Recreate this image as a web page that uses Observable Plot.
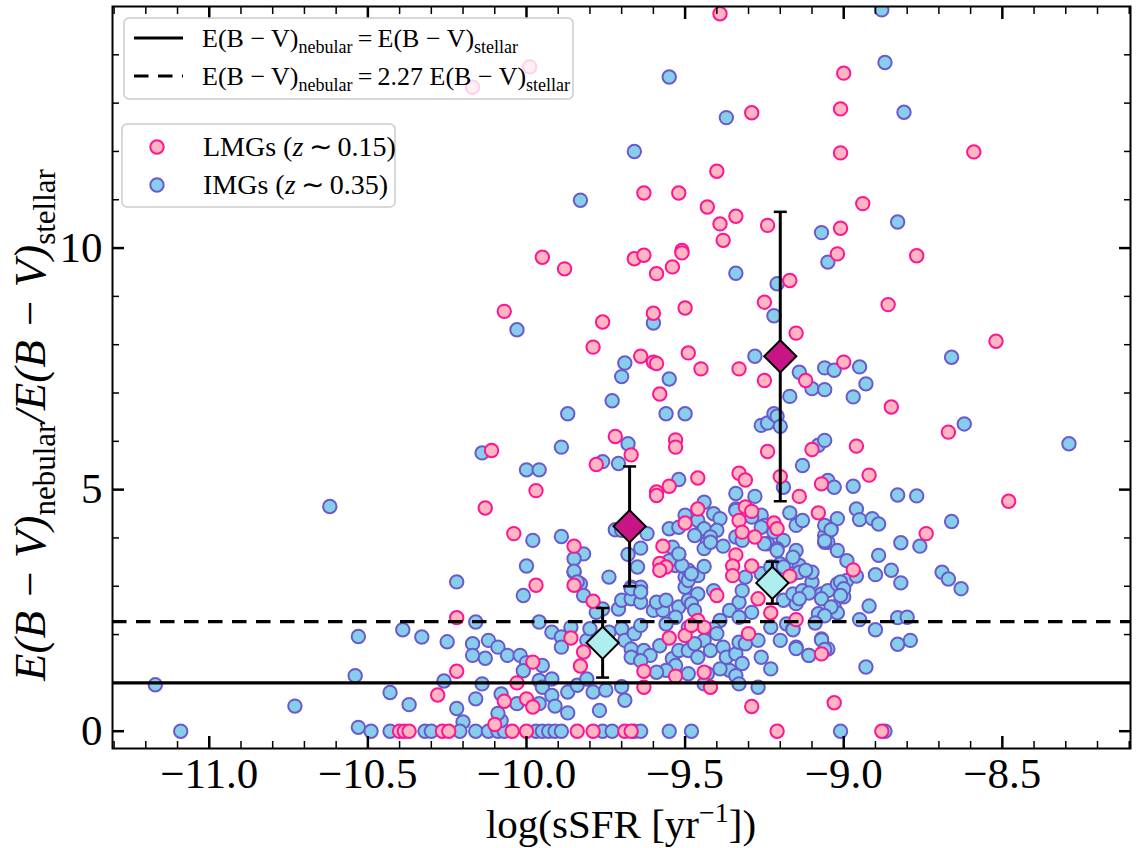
<!DOCTYPE html>
<html><head><meta charset="utf-8">
<script src="https://cdn.jsdelivr.net/npm/d3@7"></script>
<script src="https://cdn.jsdelivr.net/npm/@observablehq/plot@0.6"></script>
<style>
html,body{margin:0;padding:0;background:#fff;}
#chart{width:1136px;height:848px;}
</style></head><body><div id="chart"></div>
<script>
// ---------------- data ----------------
// IMGs (z~0.35): [log sSFR, E(B-V)neb/E(B-V)star]
const imgPoints = [
[-11.17,0.96],[-11.09,0.00],[-10.73,0.52],[-10.62,4.65],[-10.53,1.96],[-10.54,1.15],[-10.53,0.08],[-10.49,0.00],[-10.43,0.00],
[-10.39,2.10],[-10.33,1.95],[-10.25,1.85],[-10.43,0.80],[-10.37,0.55],[-10.26,1.04],[-10.22,3.09],[-10.22,0.47],[-10.20,0.19],
[-10.32,0.00],[-10.30,0.00],[-10.21,0.00],[-10.16,0.00],[-10.12,0.00],[-10.09,0.00],[-10.07,0.00],[-9.97,0.00],[-9.95,0.00],
[-9.93,0.00],[-9.91,0.00],[-9.89,0.00],[-9.76,0.00],[-9.73,0.00],[-9.66,0.00],[-9.64,0.00],[-9.55,0.00],[-9.48,0.00],[-9.01,0.00],[-8.87,0.00],
[-10.08,0.22],[-10.09,0.37],
[-10.17,1.81],[-10.12,1.88],[-10.09,1.74],[-10.06,1.57],[-10.13,1.51],[-10.17,1.57],[-10.08,0.77],[-10.14,0.98],[-10.16,0.67],[-10.03,0.57],[-10.16,2.26],
[-10.02,1.57],[-10.00,1.42],[-10.01,1.25],[-9.95,1.36],[-9.96,1.05],[-9.95,0.91],[-9.92,1.08],[-9.92,0.74],[-9.91,0.52],[-9.96,0.57],[-9.87,0.38],
[-9.87,0.81],[-9.84,0.95],[-9.81,1.08],[-9.79,0.81],[-9.75,0.85],[-9.70,0.92],[-9.69,0.64],[-9.77,0.43],
[-9.96,2.26],[-9.92,2.05],[-9.89,1.95],[-9.89,1.74],[-9.86,2.15],[-9.81,1.88],[-9.80,2.12],[-9.74,2.05],[-9.70,2.12],[-9.69,1.88],[-9.66,2.02],
[-9.64,2.19],[-9.67,1.70],[-9.63,1.67],[-9.61,1.57],[-9.58,1.77],[-9.54,1.50],[-9.52,1.67],[-9.49,1.67],[-9.53,1.36],[-9.56,1.26],[-9.59,1.22],
[-9.67,1.53],[-9.64,1.46],[-9.71,2.53],[-9.70,2.71],[-9.76,2.53],[-9.78,2.46],[-9.67,2.74],[-9.64,2.67],[-9.60,2.50],[-9.57,2.50],[-9.59,2.67],
[-9.56,2.71],[-9.52,2.57],[-9.49,2.71],[-9.53,2.36],[-9.56,2.22],[-9.49,2.15],[-9.50,3.19],[-9.49,3.33],[-9.53,3.43],[-9.82,3.67],[-9.85,3.29],
[-9.83,3.05],[-9.82,2.81],[-9.74,3.19],[-9.67,2.98],[-9.64,2.98],[-9.65,3.40],[-10.01,2.81],
[-9.87,6.57],[-9.56,6.57],[-9.50,6.57],[-9.73,6.84],[-10.14,5.76],[-9.89,5.88],[-9.68,5.95],[-9.76,5.58],[-9.71,5.54],[-10.00,5.41],[-9.96,5.41],
[-9.52,5.21],[-9.19,5.05],[-9.34,4.92],[-9.28,4.86],[-9.44,4.74],[-9.34,4.60],[-9.41,4.50],[-9.39,4.40],[-9.50,4.47],[-9.17,4.52],[-9.26,4.47],
[-9.25,4.26],[-9.15,4.26],[-9.55,4.19],[-9.52,4.22],[-9.46,4.36],[-9.44,4.19],[-9.47,4.05],[-9.43,3.91],[-9.44,3.78],[-9.40,4.16],[-9.42,4.02],
[-9.38,3.83],[-9.22,4.12],[-9.19,3.95],[-9.24,3.88],[-9.21,3.78],[-9.72,4.17],[-9.70,4.16],[-9.62,4.09],[-9.89,4.03],[-9.98,3.95],[-9.85,3.57],
[-9.85,3.31],[-9.84,3.09],[-10.00,3.42],[-9.68,3.66],[-9.64,3.79],[-9.67,2.95],[-9.64,2.88],[-9.54,3.81],[-9.52,3.66],[-9.55,3.53],[-9.51,3.43],
[-9.46,3.22],[-9.50,2.98],[-9.42,3.91],[-9.34,4.57],[-9.34,4.02],[-9.29,4.43],[-9.26,4.22],[-9.06,4.05],[-9.04,4.19],[-9.05,3.91],
[-9.32,3.95],[-9.25,3.88],[-9.21,3.74],[-9.15,3.74],[-9.06,3.91],[-9.02,3.74],[-9.44,3.41],[-9.52,3.67],[-9.49,3.12],[-9.48,3.26],[-9.46,2.84],
[-9.48,2.64],[-9.47,2.50],[-9.41,2.91],[-9.33,2.67],[-9.32,2.91],[-9.29,2.46],[-9.36,2.50],[-9.33,2.36],[-9.39,2.29],[-9.41,2.12],[-9.40,2.02],
[-9.44,1.88],[-9.47,1.81],[-9.46,1.53],[-9.42,1.67],[-9.38,1.74],[-9.37,1.53],[-9.34,1.60],[-9.33,1.84],[-9.31,1.81],[-9.27,1.88],[-9.32,1.40],
[-9.36,1.26],[-9.39,1.29],[-9.34,1.15],[-9.43,1.19],[-9.49,1.19],[-9.44,0.98],[-9.33,0.98],[-9.27,0.91],[-9.26,1.53],[-9.23,1.29],[-9.23,2.15],
[-9.20,1.88],[-9.18,2.22],[-9.16,2.12],[-9.15,1.74],[-9.11,1.57],[-9.07,1.91],[-9.05,1.70],[-9.15,2.64],[-9.19,2.71],[-9.16,2.84],[-9.13,2.91],
[-9.10,3.09],[-9.07,2.84],[-9.05,2.91],[-9.02,3.05],[-9.03,2.57],[-9.00,2.78],[-8.99,3.12],[-9.10,3.29],[-9.16,3.26],[-9.20,3.46],[-9.14,3.43],
[-9.08,2.43],[-9.31,3.19],[-9.26,3.26],[-9.23,3.40],[-9.19,3.40],[-9.16,3.60],
[-8.62,6.36],[-8.29,5.95],[-9.08,5.92],[-9.06,6.02],[-9.13,5.50],[-9.05,5.19],[-9.03,5.05],[-8.97,5.07],[-8.83,4.89],[-8.77,4.87],[-8.96,4.60],
[-8.95,4.38],[-8.91,4.40],[-8.89,4.29],[-9.02,4.40],[-9.13,4.36],[-9.06,4.26],[-9.04,4.17],[-8.66,4.34],[-9.06,3.94],[-8.82,3.90],[-8.76,3.83],
[-8.99,3.53],[-8.89,3.64],[-8.96,3.21],[-8.90,3.24],[-8.85,3.33],[-8.82,3.07],[-8.69,3.29],[-8.67,3.15],[-8.63,2.95],[-9.14,3.29],[-9.12,3.33],
[-9.01,3.09],[-9.00,2.95],[-9.01,2.81],[-9.11,2.86],[-9.07,2.74],[-9.14,2.74],[-8.92,2.59],[-9.02,2.45],[-9.04,2.57],[-9.06,2.39],[-8.95,2.31],
[-8.83,2.35],[-8.80,2.36],[-9.09,2.24],[-8.90,2.10],[-9.16,2.10],[-9.07,1.89],[-8.83,1.80],[-8.79,1.88],[-9.15,1.71],[-9.06,1.69],[-9.11,1.57],[-8.93,1.33],
[-9.26,6.33],[-9.24,6.38],[-9.22,6.57],[-9.21,6.52],[-9.20,6.31],
[-8.88,14.93],[-8.87,13.84],[-8.81,12.81],[-9.07,10.32],[-8.83,10.54],[-9.05,9.71],[-8.66,7.74],[-9.06,7.52],[-9.03,7.47],[-8.95,7.54],
[-8.93,7.19],[-9.14,7.43],[-9.10,7.09],[-9.06,7.07],[-8.97,6.92],
[-9.55,13.54],[-9.37,12.70],[-9.66,12.00],[-9.83,10.99],[-9.34,9.48],[-9.21,9.26],[-9.22,8.60],[-10.03,8.31],[-9.60,8.45],[-9.28,7.76],
[-9.69,7.62],[-9.70,7.34],[-9.55,7.29],[-9.17,6.93]
];
// LMGs (z~0.15)
const lmgPoints = [
[-10.40,0.00],[-10.385,0.00],[-10.37,0.00],[-10.265,0.00],[-10.245,0.00],[-10.045,0.00],[-10.00,0.00],[-9.84,0.00],[-9.79,0.00],
[-9.69,0.00],[-9.67,0.00],[-9.21,0.00],[-8.88,0.00],
[-10.10,0.14],[-10.28,0.75],[-10.22,1.24],[-10.22,2.35],[-10.07,0.62],[-10.00,0.67],[-9.98,0.50],[-10.03,1.00],[-9.98,1.43],[-9.63,0.91],
[-9.42,0.91],[-9.29,0.51],[-9.03,0.59],[-9.86,1.93],[-9.82,1.64],[-9.83,1.35],[-9.63,1.24],[-9.53,1.14],[-9.44,1.22],[-9.50,1.98],[-9.55,1.93],
[-9.30,2.02],[-9.46,2.29],[-9.44,2.15],[-9.48,2.19],[-9.07,1.60],[-9.15,2.31],[-9.23,2.45],[-9.27,2.74],[-9.40,2.81],[-9.79,2.69],[-9.97,3.02],[-9.85,3.02],
[-9.17,3.21],[-9.34,3.65],[-9.35,3.42],[-9.35,3.22],[-9.29,3.42],[-9.57,3.83],[-9.58,3.47],[-9.56,3.40],[-9.58,3.33],[-9.85,3.83],[-10.04,4.09],
[-8.97,3.34],[-8.74,4.09],[-9.50,4.31],[-9.33,4.36],[-9.32,4.12],[-9.28,4.02],[-9.22,4.31],[-9.21,4.19],[-9.46,4.60],[-9.31,4.64],[-9.29,4.55],
[-9.08,4.52],[-9.14,4.86],[-8.48,4.76],[-9.46,5.24],[-9.33,5.34],[-9.31,5.20],[-9.20,5.27],[-9.55,5.07],[-9.59,4.95],[-9.59,4.88],[-9.07,5.12],
[-8.92,5.30],[-9.97,4.98],[-10.13,4.62],[-9.24,5.79],[-9.10,5.83],[-8.96,5.90],[-10.11,5.81],[-9.72,6.10],[-9.67,5.72],[-9.78,5.52],[-9.53,6.03],
[-9.53,5.88],[-8.85,6.71],[-8.67,6.19],
[-9.39,14.85],[-9.29,12.80],[-9.40,11.59],[-9.63,11.14],[-9.52,11.14],[-9.43,10.85],[-9.34,10.66],[-9.39,10.50],[-9.24,10.47],[-9.38,10.16],
[-9.95,9.81],[-9.88,9.57],[-9.66,9.78],[-9.63,9.85],[-9.51,9.95],[-9.51,9.90],[-9.59,9.47],[-9.54,9.61],[-9.17,9.33],[-9.25,8.88],[-9.15,8.24],
[-10.07,8.69],[-9.76,8.47],[-9.60,8.65],[-9.50,8.76],[-9.79,7.95],[-9.64,7.76],[-9.60,7.64],[-9.59,7.61],[-9.49,7.83],[-9.45,7.50],[-9.33,7.50],
[-9.25,7.26],[-9.58,6.98],[-9.99,13.75],[-10.17,13.33],
[-9.00,13.62],[-9.01,12.88],[-9.01,11.97],[-8.59,11.99],[-8.94,10.92],[-9.01,10.41],[-9.02,9.88],[-8.77,9.84],[-8.86,8.83],[-8.52,8.07],
[-9.00,7.64],[-9.12,7.26]
];
// binned medians with error bars
const lmgBins = [
  {x:-9.675, y:4.24, lo:3.00, hi:5.48},
  {x:-9.20,  y:7.76, lo:4.76, hi:10.75}
];
const imgBins = [
  {x:-9.76,  y:1.83, lo:1.11, hi:2.55},
  {x:-9.225, y:3.07, lo:2.64, hi:3.51}
];
const ratioOneToOne = 1;
const ratioCalzetti = 2.27;
const xMajorTicks = [-11.0,-10.5,-10.0,-9.5,-9.0,-8.5];
const yMajorTicks = [0,5,10];
const xDomain = [-11.305,-8.096];
const yDomain = [-0.358,15.0];

// ---------------- chart ----------------
const serif = "'Liberation Serif','Times New Roman',serif";
const xMinorTicks = d3.range(-113,-80).map(v=>v/10).filter(v=>!xMajorTicks.some(m=>Math.abs(m-v)<1e-6));
const yMinorTicks = d3.range(1,15).filter(v=>!yMajorTicks.includes(v));
const fmtX = d => (d<0?"\u2212":"") + Math.abs(d).toFixed(1);
const blank = () => "";
const capSymbol = {draw(ctx,size){const w=Math.sqrt(size/Math.PI);ctx.moveTo(-w,0);ctx.lineTo(w,0);}};

const blueStyle = {fill:"#87CEEB", stroke:"#6A5ACD"};
const pinkStyle = {fill:"#FFB6C1", stroke:"#FF1493"};
const R = 6.7;

const chart = Plot.plot({
  width:1136, height:848,
  marginLeft:112, marginRight:6, marginTop:6, marginBottom:100,
  x:{domain:xDomain}, y:{domain:yDomain},
  style:{fontFamily:serif, background:"white", color:"black", overflow:"visible"},
  marks:[
    Plot.dot(imgPoints,{x:d=>d[0], y:d=>d[1], r:R, strokeWidth:2, ...blueStyle, clip:true}),
    Plot.dot(lmgPoints,{x:d=>d[0], y:d=>d[1], r:R, strokeWidth:2, ...pinkStyle, clip:true}),
    Plot.ruleY([ratioOneToOne],{stroke:"black", strokeWidth:3.2}),
    Plot.ruleY([ratioCalzetti],{stroke:"black", strokeWidth:3.2, strokeDasharray:"14.5,9.5"}),
    ...[lmgBins,imgBins].flatMap(b=>[
      Plot.ruleX(b,{x:"x", y1:"lo", y2:"hi", stroke:"black", strokeWidth:3}),
      Plot.dot(b,{x:"x", y:"lo", symbol:capSymbol, r:6.5, fill:"none", stroke:"black", strokeWidth:2.5}),
      Plot.dot(b,{x:"x", y:"hi", symbol:capSymbol, r:6.5, fill:"none", stroke:"black", strokeWidth:2.5})
    ]),
    Plot.dot(lmgBins,{x:"x", y:"y", symbol:"diamond2", r:14.5, fill:"#C71585", stroke:"black", strokeWidth:2}),
    Plot.dot(imgBins,{x:"x", y:"y", symbol:"diamond2", r:14.5, fill:"#AFEEEE", stroke:"black", strokeWidth:2}),
    Plot.frame({stroke:"black", strokeWidth:2}),
    // labels
    Plot.axisX(xMajorTicks,{anchor:"bottom", tickSize:0, tickPadding:9, tickFormat:fmtX, fontSize:43, label:null}),
    Plot.axisY(yMajorTicks,{anchor:"left", tickSize:0, tickPadding:10, tickFormat:d=>String(d), fontSize:43, label:null}),
    // inward ticks on all sides
    Plot.axisX(xMajorTicks,{anchor:"bottom", tickSize:-12, strokeWidth:2.5, tickFormat:blank, label:null}),
    Plot.axisX(xMinorTicks,{anchor:"bottom", tickSize:-7, strokeWidth:1.5, tickFormat:blank, label:null}),
    Plot.axisX(xMajorTicks,{anchor:"top", tickSize:-12, strokeWidth:2.5, tickFormat:blank, label:null}),
    Plot.axisX(xMinorTicks,{anchor:"top", tickSize:-7, strokeWidth:1.5, tickFormat:blank, label:null}),
    Plot.axisY(yMajorTicks,{anchor:"left", tickSize:-12, strokeWidth:2.5, tickFormat:blank, label:null}),
    Plot.axisY(yMinorTicks,{anchor:"left", tickSize:-7, strokeWidth:1.5, tickFormat:blank, label:null}),
    Plot.axisY(yMajorTicks,{anchor:"right", tickSize:-12, strokeWidth:2.5, tickFormat:blank, label:null}),
    Plot.axisY(yMinorTicks,{anchor:"right", tickSize:-7, strokeWidth:1.5, tickFormat:blank, label:null})
  ]
});
document.getElementById("chart").appendChild(chart);

// ---------------- labels & legends ----------------
const svg = d3.select(chart);
const g = svg.append("g").attr("font-family",serif).attr("fill","black").attr("text-anchor","start");

// x label
const xl = g.append("text").attr("x",621).attr("y",838).attr("text-anchor","middle").attr("font-size",41);
xl.append("tspan").text("log(sSFR [yr");
xl.append("tspan").attr("font-size",28).attr("dy",-16).text("\u22121");
xl.append("tspan").attr("dy",16).text("])");

// y label
const yl = g.append("text").attr("transform","translate(45,425) rotate(-90)").attr("text-anchor","middle").attr("font-size",45);
yl.append("tspan").attr("font-style","italic").text("E(B \u2212 V)");
yl.append("tspan").attr("font-size",31).attr("dy",10).text("nebular");
yl.append("tspan").attr("dy",-10).attr("font-style","italic").text("/E(B \u2212 V)");
yl.append("tspan").attr("font-size",31).attr("dy",10).text("stellar");

// legend 1 (reference lines)
const l1 = g.append("g");
l1.append("rect").attr("x",124).attr("y",18).attr("width",449).attr("height",81).attr("rx",5)
  .attr("fill","white").attr("fill-opacity",0.8).attr("stroke","#cccccc").attr("stroke-width",1.5);
l1.append("line").attr("x1",134).attr("x2",183).attr("y1",38).attr("y2",38).attr("stroke","black").attr("stroke-width",3.2);
l1.append("line").attr("x1",134).attr("x2",183).attr("y1",76).attr("y2",76).attr("stroke","black").attr("stroke-width",3.2).attr("stroke-dasharray","14.5,9.5");
function ebvText(sel, x, y, mid){
  const t = sel.append("text").attr("x",x).attr("y",y).attr("font-size",26);
  t.append("tspan").text("E(B \u2212 V)");
  t.append("tspan").attr("font-size",18).attr("dy",6).text("nebular");
  t.append("tspan").attr("dy",-6).text("\u2009=\u2009" + mid + "E(B \u2212 V)");
  t.append("tspan").attr("font-size",18).attr("dy",6).text("stellar");
}
ebvText(l1, 202, 47, "");
ebvText(l1, 202, 85, "2.27 ");

// legend 2 (samples)
const l2 = g.append("g");
l2.append("rect").attr("x",122).attr("y",124).attr("width",273).attr("height",83).attr("rx",5)
  .attr("fill","white").attr("fill-opacity",0.8).attr("stroke","#cccccc").attr("stroke-width",1.5);
const entries = [
  {label:"LMGs", z:"0.15", style:pinkStyle, y:147},
  {label:"IMGs", z:"0.35", style:blueStyle, y:185}
];
for (const e of entries){
  l2.append("circle").attr("cx",157).attr("cy",e.y).attr("r",R).attr("fill",e.style.fill).attr("stroke",e.style.stroke).attr("stroke-width",2);
  const t = l2.append("text").attr("x",203).attr("y",e.y+9).attr("font-size",28);
  t.append("tspan").text(e.label + " (");
  t.append("tspan").attr("font-style","italic").text("z");
  t.append("tspan").text("\u2009\u223C\u2009" + e.z + ")");
}
</script></body></html>
